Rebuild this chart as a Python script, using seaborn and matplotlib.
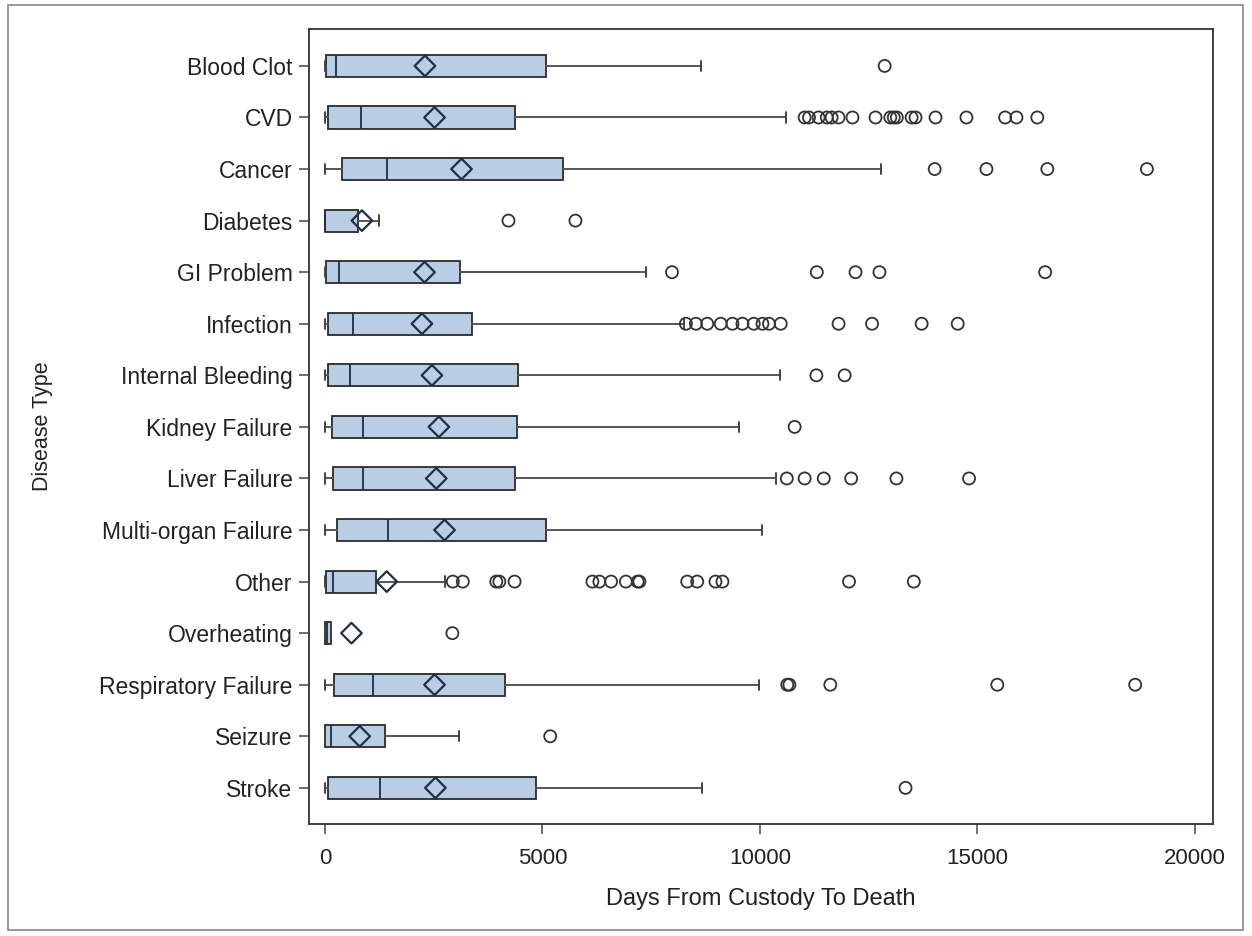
import numpy as np
import pandas as pd
import seaborn as sns
import matplotlib.pyplot as plt
from matplotlib.patches import Rectangle

# disease types, top to bottom
categories = ['Blood Clot', 'CVD', 'Cancer', 'Diabetes', 'GI Problem', 'Infection',
              'Internal Bleeding', 'Kidney Failure', 'Liver Failure', 'Multi-organ Failure',
              'Other', 'Overheating', 'Respiratory Failure', 'Seizure', 'Stroke']

# box statistics (days)
whislo = [0, 0, 0, 0, 0, 0, 0, 0, 0, 0, 0, 0, 0, 0, 0]
q1 = [20, 70, 400, 0, 20, 70, 70, 160, 185, 270, 20, 0, 210, 0, 60]
med = [250, 840, 1430, 10, 320, 640, 575, 870, 870, 1450, 190, 40, 1110, 130, 1260]
q3 = [5085, 4370, 5480, 760, 3100, 3390, 4450, 4420, 4375, 5085, 1170, 130, 4150, 1390, 4860]
whishi = [8640, 10600, 12780, 1240, 7380, 8250, 10460, 9520, 10370, 10060, 2750, 130, 9980, 3080, 8680]
means = [2300, 2520, 3140, 850, 2290, 2230, 2460, 2620, 2560, 2750, 1420, 610, 2520, 800, 2540]

outliers = {
    'Blood Clot': [12870],
    'CVD': [11030, 11130, 11350, 11540, 11650, 11810, 12130, 12660, 13000, 13080, 13150,
            13490, 13580, 14040, 14750, 15640, 15900, 16380],
    'Cancer': [14020, 15210, 16610, 18900],
    'Diabetes': [4220, 5760],
    'GI Problem': [7980, 11310, 12200, 12750, 16560],
    'Infection': [8300, 8530, 8790, 9100, 9370, 9600, 9860, 10060, 10210, 10480,
                  11810, 12580, 13720, 14550],
    'Internal Bleeding': [11300, 11950],
    'Kidney Failure': [10800],
    'Liver Failure': [10620, 11030, 11470, 12100, 13140, 14810],
    'Multi-organ Failure': [],
    'Other': [2940, 3170, 3940, 4010, 4360, 6150, 6310, 6580, 6920, 7190, 7230,
              8330, 8560, 8980, 9140, 12050, 13540],
    'Overheating': [2930],
    'Respiratory Failure': [10630, 10680, 11620, 15460, 18630],
    'Seizure': [5180],
    'Stroke': [13350],
}

xticks = [0, 5000, 10000, 15000, 20000]

sns.set_style('ticks')
plt.rcParams['font.family'] = ['Liberation Sans', 'DejaVu Sans']

fig = plt.figure(figsize=(12.52, 9.36), dpi=100)
ax = fig.add_axes([0.247, 0.1197, 0.722, 0.849])

pos = list(range(len(categories)))

# boxes + whiskers
stats = []
for i, c in enumerate(categories):
    stats.append(dict(label=c, whislo=whislo[i], q1=q1[i], med=med[i], q3=q3[i],
                      whishi=whishi[i], mean=means[i], fliers=[]))
ax.bxp(stats, positions=pos, orientation='horizontal', widths=0.43, capwidths=0.2,
       patch_artist=True, showfliers=False, showmeans=False,
       boxprops=dict(facecolor='#b9cde5', edgecolor='#2b2b2b', linewidth=1.3),
       medianprops=dict(color='#1f2f45', linewidth=1.3),
       whiskerprops=dict(color='#555555', linewidth=1.4),
       capprops=dict(color='#444444', linewidth=1.4))

# means
mean_df = pd.DataFrame({'days': means, 'pos': pos})
sns.scatterplot(data=mean_df, x='days', y='pos', marker='D', s=110, facecolor='none',
                edgecolor='#1f2f45', linewidth=1.6, ax=ax, legend=False, zorder=4)

# outliers
rows = [(v, i) for i, c in enumerate(categories) for v in outliers[c]]
out_df = pd.DataFrame(rows, columns=['days', 'pos'])
sns.scatterplot(data=out_df, x='days', y='pos', marker='o', s=75, facecolor='none',
                edgecolor='#333333', linewidth=1.3, ax=ax, legend=False, zorder=4)

# axes
ax.set_xlim(-361, 20424)
ax.set_ylim(14.7, -0.71)
ax.set_xticks(xticks)
ax.set_xticklabels([str(t) for t in xticks], fontsize=16, color='#222222')
ax.set_yticks(pos)
ax.set_yticklabels(categories, fontsize=16.5, color='#222222')
ax.tick_params(axis='both', direction='out', length=7, width=1.2, color='#555555', pad=5)
ax.tick_params(axis='x', pad=10)
for s in ax.spines.values():
    s.set_visible(True)
    s.set_linewidth(1.3)
    s.set_color('#333333')
ax.set_xlabel('Days From Custody To Death', fontsize=17, color='#222222', labelpad=14)
ax.set_ylabel('Disease Type', fontsize=15.5, color='#222222')
ax.yaxis.set_label_coords(-0.283, 0.5)

# outer frame around the whole graph
fig.patches.append(Rectangle((0.0064, 0.0064), 0.9864, 0.9883, transform=fig.transFigure,
                             fill=False, edgecolor='#888888', linewidth=1.2))

plt.savefig('out.png', dpi=100)
